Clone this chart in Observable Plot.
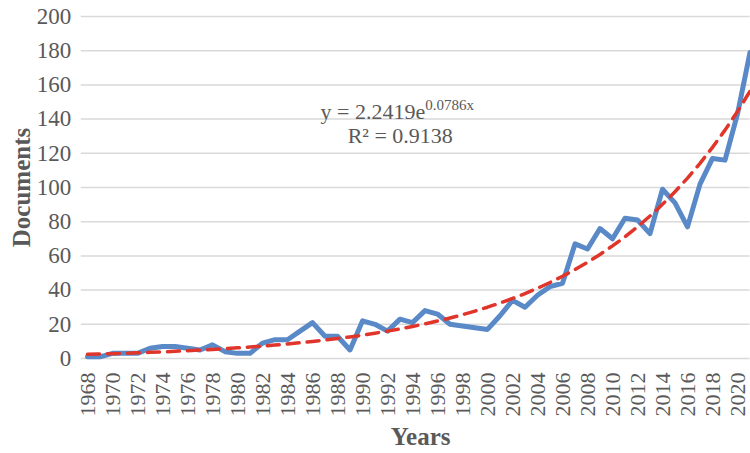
<!DOCTYPE html>
<html>
<head>
<meta charset="utf-8">
<script src="https://cdn.jsdelivr.net/npm/d3@7"></script>
<script src="https://cdn.jsdelivr.net/npm/@observablehq/plot@0.6"></script>
<style>
  html, body { margin: 0; padding: 0; background: #fff; }
  #chart { width: 750px; height: 453px; }
</style>
</head>
<body>
<div id="chart"></div>
<script>
const years = [1968,1969,1970,1971,1972,1973,1974,1975,1976,1977,1978,1979,1980,1981,1982,1983,1984,1985,1986,1987,1988,1989,1990,1991,1992,1993,1994,1995,1996,1997,1998,1999,2000,2001,2002,2003,2004,2005,2006,2007,2008,2009,2010,2011,2012,2013,2014,2015,2016,2017,2018,2019,2020,2021];
const documents = [1,1,3,3,3,6,7,7,6,5,8,4,3,3,9,11,11,16,21,13,13,5,22,20,16,23,21,28,26,20,19,18,17,25,34,30,37,42,44,67,64,76,70,82,81,73,99,91,77,102,117,116,143,179];
const yTicks = [0,20,40,60,80,100,120,140,160,180,200];
const xTicks = [1968,1970,1972,1974,1976,1978,1980,1982,1984,1986,1988,1990,1992,1994,1996,1998,2000,2002,2004,2006,2008,2010,2012,2014,2016,2018,2020];
// Exponential trendline printed on the chart: y = 2.2419e^(0.0786x), x = 1..n
const trendA = 2.2419;
const trendB = 0.0786;
const eqMain = "y = 2.2419e";
const eqExp = "0.0786x";
const eqR2 = "R² = 0.9138";
const yTitle = "Documents";
const xTitle = "Years";

const rows = years.map((yr, i) => ({year: yr, value: documents[i], trend: trendA * Math.exp(trendB * (i + 1))}));

const textColor = "#595959";
const chart = Plot.plot({
  width: 750,
  height: 453,
  marginLeft: 80.75,
  marginRight: 0.5,
  marginTop: 16,
  marginBottom: 95,
  style: {fontFamily: "'Liberation Serif', 'Times New Roman', serif", color: textColor, background: "#fff", overflow: "visible"},
  x: {domain: [1967.5, 2021], label: null},
  y: {domain: [0, 200], label: null},
  marks: [
    Plot.ruleY(yTicks, {stroke: "#D9D9D9", strokeWidth: 1.5}),
    Plot.axisY({ticks: yTicks, tickSize: 0, tickPadding: 10, fontSize: 23, label: null}),
    Plot.axisX({ticks: xTicks, tickFormat: d => String(d), tickRotate: -90, tickSize: 0, tickPadding: 14, fontSize: 22, label: null}),
    Plot.line(rows, {x: "year", y: "value", stroke: "#5A89C8", strokeWidth: 5, strokeLinejoin: "round", strokeLinecap: "round"}),
    Plot.line(rows, {x: "year", y: "trend", stroke: "#E0352B", strokeWidth: 3.5, strokeDasharray: "12,8"}),
    Plot.text([eqMain], {frameAnchor: "top-left", dx: 344, dy: 87, textAnchor: "end", fontSize: 22, fill: textColor}),
    Plot.text([eqExp], {frameAnchor: "top-left", dx: 344, dy: 83, textAnchor: "start", fontSize: 15, fill: textColor}),
    Plot.text([eqR2], {frameAnchor: "top-left", dx: 319, dy: 111, textAnchor: "middle", fontSize: 22, fill: textColor}),
    Plot.text([yTitle], {frameAnchor: "left", dx: -59, rotate: -90, textAnchor: "middle", fontSize: 25, fontWeight: "bold", fill: textColor}),
    Plot.text([xTitle], {frameAnchor: "bottom", dx: 5, dy: 86, fontSize: 25, fontWeight: "bold", fill: textColor})
  ]
});
document.getElementById("chart").appendChild(chart);
</script>
</body>
</html>
